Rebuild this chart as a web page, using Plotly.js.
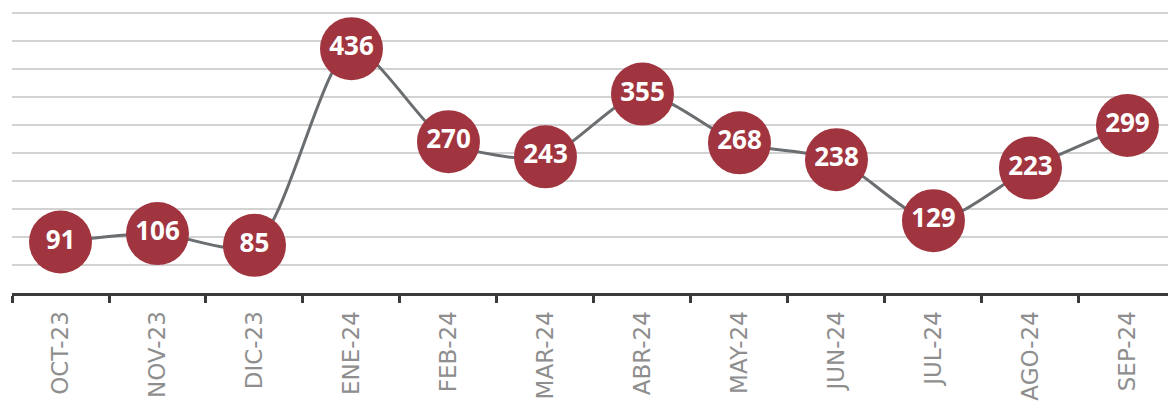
<!DOCTYPE html>
<html>
<head>
<meta charset="utf-8">
<script src="https://cdn.plot.ly/plotly-3.0.1.min.js"></script>
<style>
html,body{margin:0;padding:0;background:#fff;overflow:hidden;}
#chart{width:1168px;height:409px;}
</style>
</head>
<body>
<div id="chart"></div>
<script>
const months = ["OCT-23","NOV-23","DIC-23","ENE-24","FEB-24","MAR-24","ABR-24","MAY-24","JUN-24","JUL-24","AGO-24","SEP-24"];
const values = [91,106,85,436,270,243,355,268,238,129,223,299];

const trace = {
  x: months,
  y: values,
  type: 'scatter',
  mode: 'lines+markers+text',
  line: {color: '#6b6e70', width: 3, shape: 'spline', smoothing: 0.75},
  marker: {size: 63, color: '#a1353f', line: {width: 0}},
  text: values.map(String),
  textposition: 'middle center',
  textfont: {family: 'Open Sans, sans-serif', size: 26, color: '#ffffff', weight: 'bold'},
  cliponaxis: false,
  hoverinfo: 'none'
};

const layout = {
  width: 1168,
  height: 409,
  margin: {l: 12, r: 0, t: 5, b: 116},
  paper_bgcolor: '#ffffff',
  plot_bgcolor: '#ffffff',
  showlegend: false,
  xaxis: {
    type: 'category',
    range: [-0.5, 11.418],
    showline: true,
    linecolor: '#3a3a3a',
    linewidth: 3,
    ticks: 'outside',
    tickson: 'boundaries',
    ticklen: 7,
    tickwidth: 3,
    tickcolor: '#3a3a3a',
    tickangle: -90,
    ticklabelstandoff: 6,
    tickfont: {family: 'DejaVu Sans, sans-serif', size: 23, color: '#8e8e8e'},
    showgrid: false,
    zeroline: false,
    fixedrange: true
  },
  yaxis: {
    range: [0, 514],
    dtick: 50,
    tick0: 0,
    showgrid: true,
    gridcolor: '#d2d2d2',
    gridwidth: 2,
    showticklabels: false,
    zeroline: false,
    showline: false,
    ticks: '',
    fixedrange: true
  }
};

Plotly.newPlot('chart', [trace], layout, {displayModeBar: false, staticPlot: true});
</script>
</body>
</html>
